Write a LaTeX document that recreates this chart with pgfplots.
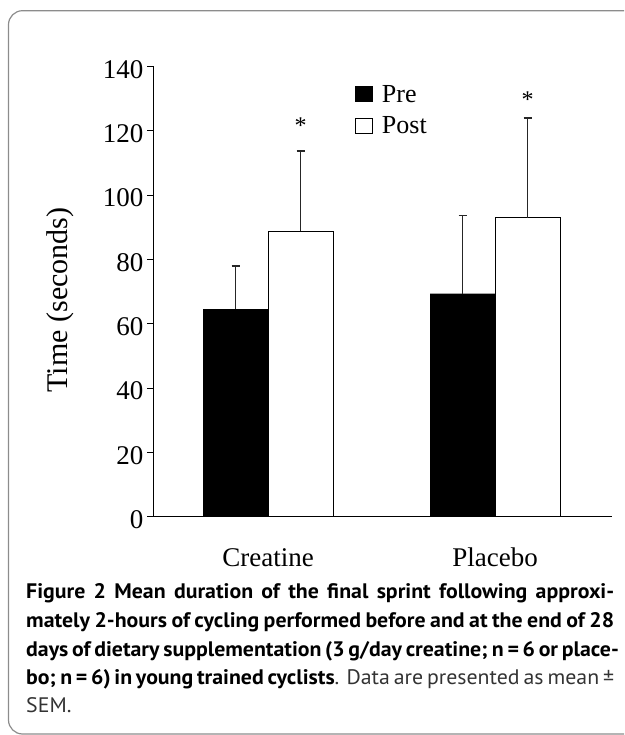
\documentclass[border=0pt]{standalone}
\usepackage{pgfplots}
\pgfplotsset{compat=1.18}
\usepackage{fontspec}
\setmainfont{Liberation Serif}
\newfontfamily\capfont[FakeStretch=1.04]{PT Sans}
\begin{document}
\begin{tikzpicture}[x=1pt,y=1pt]
\useasboundingbox (0,0) rectangle (624,735);
\begin{scope}
\clip (0,0) rectangle (624,735);
\draw[black!45, line width=1.2pt, rounded corners=14pt] (8.5,1) rectangle (680,724.3);
\end{scope}
\begin{axis}[
  at={(153pt,218.5pt)}, anchor=south west,
  scale only axis, width=459pt, height=450pt,
  xmin=-0.5066, xmax=1.515, ymin=0, ymax=140,
  axis x line*=bottom, axis y line*=left,
  axis line style={black, line width=1pt, -},
  ybar, bar width=0.2863,
  ytick={0,20,...,140},
  xtick={0,1}, xticklabels={Creatine,Placebo},
  tick align=outside, major tick length=6pt,
  xtick style={draw=none},
  ytick style={black, line width=0.8pt},
  tick label style={font=\fontsize{27}{27}\selectfont},
  /pgf/number format/assume math mode=true,
  xticklabel style={anchor=base, yshift=-44pt},
  yticklabel style={yshift=-3pt},
  every axis y label/.style={at={(axis description cs:-0.2026,0.481)}, rotate=90, anchor=center},
  ylabel={Time (seconds)},
  ylabel style={font=\fontsize{30}{30}\selectfont},
  legend style={at={(axis description cs:0.440,0.963)}, anchor=north west, draw=none, fill=none,
    font=\fontsize{26}{26}\selectfont, row sep=9pt, column sep=7pt, inner sep=0pt},
  legend cell align=left,
  legend image code/.code={\draw[#1, line width=0.8pt] (0pt,-7pt) rectangle (17pt,8pt);},
  error bars/y dir=plus, error bars/y explicit,
  error bars/error bar style={line width=1pt, black!85},
  error bars/error mark options={rotate=90, mark size=4pt, line width=1.2pt, black!85},
]
\addplot[fill=black, draw=black, bar shift=-0.1432]
  coordinates {(0,64.5) +- (0,13.4) (1,69.3) +- (0,24.3)};
\addlegendentry{Pre}
\addplot[fill=white, draw=black, bar shift=0.1432]
  coordinates {(0,88.7) +- (0,25.0) (1,93.0) +- (0,31.0)};
\addlegendentry{Post}
\node[font=\fontsize{24}{24}\selectfont, yshift=-3pt] at (axis cs:0.1432,122.4) {*};
\node[font=\fontsize{24}{24}\selectfont, yshift=-3pt] at (axis cs:1.1432,130.5) {*};
\end{axis}
\begin{scope}[every node/.style={anchor=base west, inner sep=0pt, font=\capfont\fontsize{21}{21}\selectfont}]
\node at (26,136) {\makebox[588pt][s]{\bfseries Figure 2 Mean duration of the final sprint following approxi-}};
\node at (26,107) {\makebox[588pt][s]{\bfseries mately 2-hours of cycling performed before and at the end of 28}};
\node at (26,78) {\makebox[588pt][s]{\bfseries days of dietary supplementation (3 g/day creatine; n = 6 or place-}};
\node at (26,50) {\makebox[588pt][s]{\bfseries bo; n = 6) in young trained cyclists\mdseries\color{black!80}. Data are presented as mean \textpm}};
\node at (26,22) {\color{black!80}SEM.};
\end{scope}
\end{tikzpicture}
\end{document}
